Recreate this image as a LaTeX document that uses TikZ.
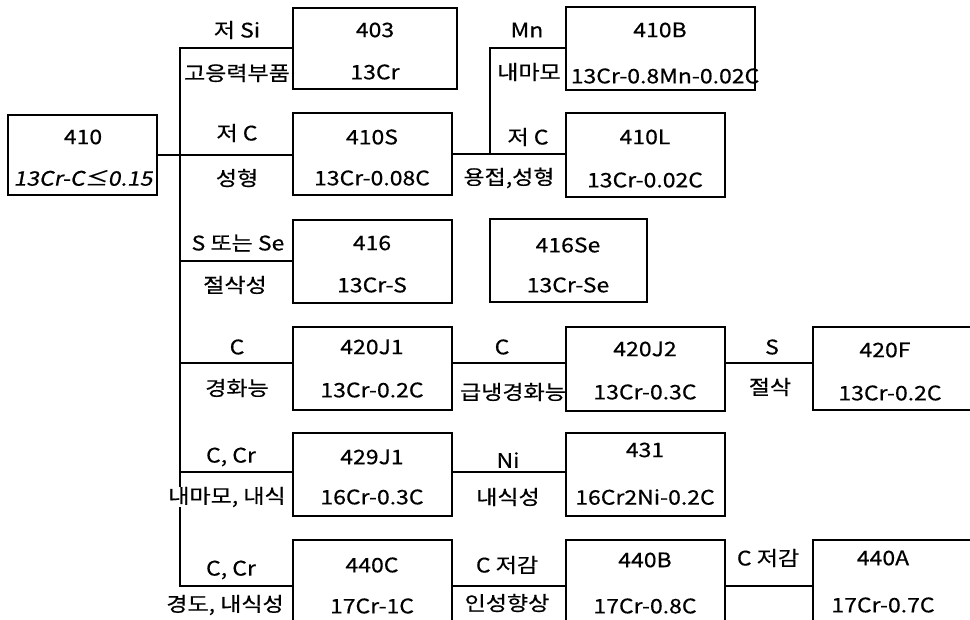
\documentclass[tikz,border=0pt]{standalone}
\usepackage{fontspec}
\setmainfont{Noto Sans CJK KR}[FakeStretch=1.15, FakeBold=0.5]
\newfontfamily\slfont{Noto Sans CJK KR}[FakeSlant=0.18, FakeStretch=1.15, FakeBold=0.5]
\usetikzlibrary{fit}
\tikzset{
  box/.style={draw, line width=2pt, inner sep=0pt},
  txt/.style={font=\fontsize{20}{20}\selectfont, inner sep=0pt},
  conn/.style={line width=2pt}
}
\begin{document}
\begin{tikzpicture}[x=1pt,y=-1pt]
\useasboundingbox (0,0) rectangle (970,620);
\clip (0,0) rectangle (970,620);
% boxes
\node[box, fit={(8,115)(157,195)}] (b410) {};
\node[box, fit={(293,8)(457,89)}] (b403) {};
\node[box, fit={(293,113)(452,195)}] (b410S) {};
\node[box, fit={(566,7)(755,90)}] (b410B) {};
\node[box, fit={(566,113)(725,197)}] (b410L) {};
\node[box, fit={(293,220)(452,303)}] (b416) {};
\node[box, fit={(490,219)(647,302)}] (b416Se) {};
\node[box, fit={(293,327)(452,410)}] (b420J1) {};
\node[box, fit={(566,327)(725,411)}] (b420J2) {};
\node[box, fit={(813,327)(975,410)}] (b420F) {};
\node[box, fit={(293,433)(452,516)}] (b429J1) {};
\node[box, fit={(566,433)(725,516)}] (b431) {};
\node[box, fit={(293,540)(452,630)}] (b440C) {};
\node[box, fit={(566,540)(725,630)}] (b440B) {};
\node[box, fit={(813,540)(975,630)}] (b440A) {};
% connectors
\coordinate (tEnd) at (180,586);
\coordinate (r420) at (180,363);
\coordinate (r429) at (180,472);
\coordinate (br) at (490,154);
\draw[conn] (b410.east) -- (b410.east -| b410S.west);
\draw[conn] (b403.west) -| (tEnd) -- (tEnd -| b440C.west);
\draw[conn] (b416.west) -- (b416.west -| tEnd);
\draw[conn] (r420) -- (r420 -| b420J1.west);
\draw[conn] (r420 -| b420J1.east) -- (r420 -| b420J2.west);
\draw[conn] (r420 -| b420J2.east) -- (r420 -| b420F.west);
\draw[conn] (r429) -- (r429 -| b429J1.west);
\draw[conn] (r429 -| b429J1.east) -- (r429 -| b431.west);
\draw[conn] (tEnd -| b440C.east) -- (tEnd -| b440B.west);
\draw[conn] (tEnd -| b440B.east) -- (tEnd -| b440A.west);
\draw[conn] (b410S.east |- br) -- (br -| b410L.west);
\draw[conn] (br) |- (b410B.west);
% box texts
\node[txt] (t410a) at (83,137) {410};
\node[txt] (t410b) at (83,178) {\slfont 13Cr-C≤0.15};
\node[txt] (t403a) at (375,30) {403};
\node[txt] (t403b) at (375,72) {13Cr};
\node[txt] (t410Sa) at (372,137) {410S};
\node[txt] (t410Sb) at (372,178) {13Cr-0.08C};
\node[txt] (t410Ba) at (660,30) {410B};
\node[txt] (t410Bb) at (665,76) {13Cr-0.8Mn-0.02C};
\node[txt] (t410La) at (645,137) {410L};
\node[txt] (t410Lb) at (645,180) {13Cr-0.02C};
\node[txt] (t416a) at (372,243) {416};
\node[txt] (t416b) at (372,285) {13Cr-S};
\node[txt] (t416Sea) at (568,245) {416Se};
\node[txt] (t416Seb) at (568,285) {13Cr-Se};
\node[txt] (t420J1a) at (372,347) {420J1};
\node[txt] (t420J1b) at (372,390) {13Cr-0.2C};
\node[txt] (t420J2a) at (645,349) {420J2};
\node[txt] (t420J2b) at (645,392) {13Cr-0.3C};
\node[txt] (t420Fa) at (885,350) {420F};
\node[txt] (t420Fb) at (890,393) {13Cr-0.2C};
\node[txt] (t429J1a) at (372,457) {429J1};
\node[txt] (t429J1b) at (372,497) {16Cr-0.3C};
\node[txt] (t431a) at (645,450) {431};
\node[txt] (t431b) at (645,497) {16Cr2Ni-0.2C};
\node[txt] (t440Ca) at (372,565) {440C};
\node[txt] (t440Cb) at (372,606) {17Cr-1C};
\node[txt] (t440Ba) at (645,560) {440B};
\node[txt] (t440Bb) at (645,606) {17Cr-0.8C};
\node[txt] (t440Aa) at (883,558) {440A};
\node[txt] (t440Ab) at (883,605) {17Cr-0.7C};
% labels
\node[txt] (l1a) at (237,30) {저 Si};
\node[txt] (l1b) at (237,73) {고응력부품};
\node[txt] (l2a) at (237,133) {저 C};
\node[txt] (l2b) at (237,178) {성형};
\node[txt] (l3a) at (527,30) {Mn};
\node[txt] (l3b) at (529,72) {내마모};
\node[txt] (l4a) at (528,137) {저 C};
\node[txt] (l4b) at (509,178) {용접,성형};
\node[txt] (l5a) at (238,243) {S 또는 Se};
\node[txt] (l5b) at (235,285) {절삭성};
\node[txt] (l6a) at (237,347) {C};
\node[txt] (l6b) at (237,388) {경화능};
\node[txt] (l7a) at (502,347) {C};
\node[txt] (l7b) at (513,392) {급냉경화능};
\node[txt] (l8a) at (772,347) {S};
\node[txt] (l8b) at (770,387) {절삭};
\node[txt] (l9a) at (231,457) {C, Cr};
\node[txt, fill=white] (l9b) at (227,497) {내마모, 내식};
\node[txt] (l10a) at (508,460) {Ni};
\node[txt] (l10b) at (508,497) {내식성};
\node[txt] (l11a) at (231,570) {C, Cr};
\node[txt] (l11b) at (225,605) {경도, 내식성};
\node[txt] (l12a) at (507,565) {C 저감};
\node[txt] (l12b) at (507,603) {인성향상};
\node[txt] (l13a) at (768,558) {C 저감};
\end{tikzpicture}
\end{document}
